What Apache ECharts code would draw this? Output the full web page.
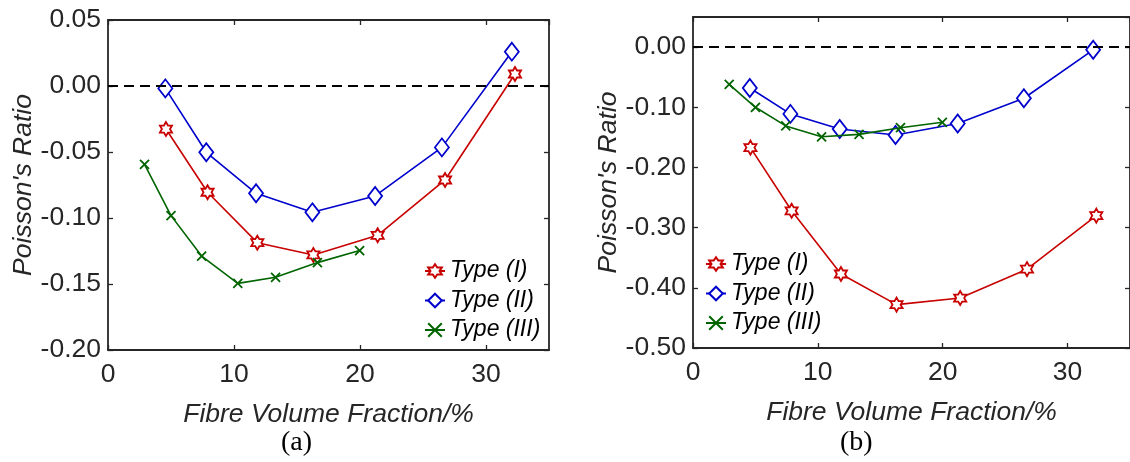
<!DOCTYPE html>
<html>
<head>
<meta charset="utf-8">
<script src="https://cdn.jsdelivr.net/npm/echarts@6/dist/echarts.min.js"></script>
<style>
html,body{margin:0;padding:0;background:#fff;}
#chart{width:1130px;height:462px;}
</style>
</head>
<body>
<div id="chart"></div>
<script>
// ---- data ----
const seriesNames = ['Type (I)', 'Type (II)', 'Type (III)'];
const xTypeI   = [4.6, 7.9, 11.85, 16.3, 21.4, 26.75, 32.3];
const xTypeII  = [4.55, 7.8, 11.75, 16.22, 21.2, 26.5, 32.05];
const xTypeIII = [2.9, 5.0, 7.43, 10.3, 13.3, 16.62, 19.97];
// panel (a)
const aTypeI   = [-0.0326, -0.0805, -0.1187, -0.128, -0.1131, -0.0712, 0.0091];
const aTypeII  = [-0.0018, -0.0502, -0.0813, -0.0957, -0.0833, -0.0465, 0.026];
const aTypeIII = [-0.0593, -0.0982, -0.1288, -0.1495, -0.1449, -0.1338, -0.1247];
// panel (b)
const bTypeI   = [-0.167, -0.272, -0.377, -0.428, -0.417, -0.369, -0.280];
const bTypeII  = [-0.068, -0.111, -0.136, -0.146, -0.127, -0.085, -0.0045];
const bTypeIII = [-0.062, -0.100, -0.131, -0.149, -0.145, -0.134, -0.125];
const xTitle = 'Fibre Volume Fraction/%';
const yTitle = "Poisson's Ratio";
const captions = ['(a)', '(b)'];

// ---- styles ----
const RED = '#c80000', BLUE = '#0000cd', GREEN = '#006400', AX = '#262626';
const FONT = '"Liberation Sans", Arial, sans-serif';
const FS = 26.5;
const hexagram = 'path://M50 0 L35.57 25 L6.7 25 L21.13 50 L6.7 75 L35.57 75 L50 100 L64.43 75 L93.3 75 L78.87 50 L93.3 25 L64.43 25 Z';
const xmark = 'path://M0 0 L100 100 M100 0 L0 100';

function pairs(xs, ys){ return xs.map((x,i)=>[x, ys[i]]); }

const markers = [
  {symbol: hexagram, size: 14, color: RED},
  {symbol: 'diamond', size: [14,18], color: BLUE},
  {symbol: xmark, size: 9, color: GREEN}
];

function mkSeries(idx, gi, xs, ys, withZero){
  const m = markers[idx];
  const s = {
    type: 'line', name: seriesNames[idx],
    xAxisIndex: gi*2, yAxisIndex: gi*2,
    data: pairs(xs, ys),
    symbol: m.symbol, symbolSize: m.size, symbolKeepAspect: true,
    showAllSymbol: true,
    lineStyle: {color: m.color, width: 1.6},
    itemStyle: {color: '#fff', borderColor: m.color, borderWidth: 1.8},
    emphasis: {disabled: true},
    z: 3 + idx
  };
  if (withZero) {
    s.markLine = {
      silent: true, symbol: ['none','none'],
      label: {show: false},
      lineStyle: {color: '#000', type: [10,6], width: 2},
      data: [{yAxis: 0}]
    };
  }
  return s;
}

function xAxes(gi){
  const base = {gridIndex: gi, type: 'value', min: 0, max: 35, interval: 10,
    splitLine: {show: false},
    axisLine: {show: true, onZero: false, lineStyle: {color: AX, width: 1.8}},
    axisTick: {show: true, inside: true, length: 5, lineStyle: {color: AX, width: 1.3}}};
  return [
    Object.assign({}, base, {position: 'bottom',
      name: xTitle, nameLocation: 'middle', nameGap: 51,
      nameTextStyle: {fontFamily: FONT, fontSize: FS, fontStyle: 'italic', color: AX},
      axisLabel: {show: true, margin: 11, fontFamily: FONT, fontSize: FS, color: AX, showMaxLabel: false}}),
    Object.assign({}, base, {position: 'top', axisLabel: {show: false}})
  ];
}
function yAxes(gi, min, max, interval, gap){
  const base = {gridIndex: gi, type: 'value', min: min, max: max, interval: interval,
    splitLine: {show: false},
    axisLine: {show: true, onZero: false, lineStyle: {color: AX, width: 1.8}},
    axisTick: {show: true, inside: true, length: 5, lineStyle: {color: AX, width: 1.3}}};
  return [
    Object.assign({}, base, {position: 'left',
      name: yTitle, nameLocation: 'middle', nameGap: gap, nameRotate: 90,
      nameTextStyle: {fontFamily: FONT, fontSize: FS, fontStyle: 'italic', color: AX},
      axisLabel: {show: true, margin: 7, fontFamily: FONT, fontSize: FS, color: AX,
        showMaxLabel: gi === 0,
        formatter: v => (Math.abs(v) < 1e-9 ? 0 : v).toFixed(2)}}),
    Object.assign({}, base, {position: 'right', axisLabel: {show: false}})
  ];
}

function legend(left, top){
  return {
    left: left, top: top, orient: 'vertical', padding: 0,
    itemWidth: 20, itemHeight: 17, itemGap: 5.5,
    data: seriesNames, selectedMode: false,
    textStyle: {fontFamily: FONT, fontSize: 23, fontStyle: 'italic', color: '#000', lineHeight: 24, padding: [0,0,0,0]},
    inactiveColor: '#000'
  };
}

const option = {
  animation: false,
  backgroundColor: '#fff',
  grid: [
    {left: 108, top: 20, width: 441, height: 330, containLabel: false},
    {left: 693, top: 17, width: 441, height: 331, containLabel: false}
  ],
  xAxis: [...xAxes(0), ...xAxes(1)],
  yAxis: [...yAxes(0, -0.2, 0.05, 0.05, 68), ...yAxes(1, -0.5, 0.05, 0.1, 71)],
  legend: [legend(424, 259), legend(705, 252)],
  series: [
    mkSeries(0, 0, xTypeI, aTypeI, true),
    mkSeries(1, 0, xTypeII, aTypeII, false),
    mkSeries(2, 0, xTypeIII, aTypeIII, false),
    mkSeries(0, 1, xTypeI, bTypeI, true),
    mkSeries(1, 1, xTypeII, bTypeII, false),
    mkSeries(2, 1, xTypeIII, bTypeIII, false)
  ],
  graphic: [
    {type: 'text', left: 299 - 18, top: 429, style: {text: captions[0], font: '28px "Liberation Serif", "Times New Roman", serif', fill: '#000'}},
    {type: 'text', left: 858 - 18, top: 429, style: {text: captions[1], font: '28px "Liberation Serif", "Times New Roman", serif', fill: '#000'}}
  ]
};

const chart = echarts.init(document.getElementById('chart'), null, {renderer: 'canvas'});
chart.setOption(option);
</script>
</body>
</html>
